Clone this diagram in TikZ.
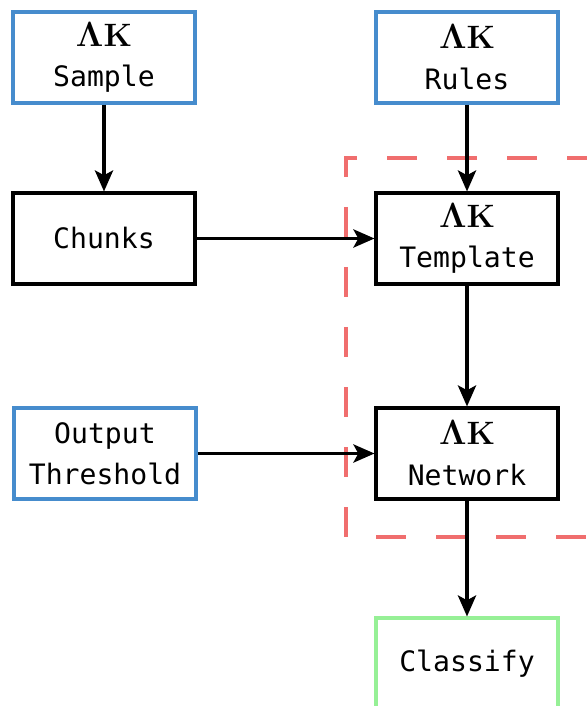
\documentclass[tikz,border=0pt]{standalone}
\usepackage{amsmath, amssymb}
\usepackage{fontspec}
\setmonofont{DejaVu Sans Mono}
\usepackage{tikz}
\usetikzlibrary{arrows.meta}
\usetikzlibrary{positioning}

\definecolor{inblue}{RGB}{70,140,205}
\definecolor{outgreen}{RGB}{150,240,150}
\definecolor{groupred}{RGB}{240,110,110}

\newcommand{\lk}{{\normalfont\fontsize{23}{27}\selectfont\bfseries$\boldsymbol{\Lambda}$K}}

\begin{document}
\begin{tikzpicture}[>={Stealth[length=15pt,width=13pt,inset=3.5pt]},
    every node/.style={font=\ttfamily\fontsize{20}{29}\selectfont},
    box/.style={draw, line width=2.2pt, minimum width=4.55cm, minimum height=2.275cm, align=center, inner sep=0pt},
    inbox/.style={box, draw=inblue},
    outbox/.style={box, draw=outgreen}]
        \useasboundingbox (0,0) rectangle (14.675,-17.65);

        % group of the two core stages
        \draw[groupred, line width=2.4pt, dash pattern=on 0.75cm off 0.75cm, dash phase=0.25cm]
            (14.675,-3.95) -- (8.65,-3.95) -- (8.65,-13.425) -- (14.675,-13.425);

        \node[inbox] at (2.6,-1.4375)    (sample) {\lk\\Sample};
        \node[inbox] at (11.675,-1.4375) (rules)  {\lk\\Rules};
        \node[box]   at (2.6,-5.9625)    (chunks) {Chunks};
        \node[box]   at (11.675,-5.9625) (tmpl)   {\lk\\Template};
        \node[inbox] at (2.625,-11.3375) (thresh) {Output\\Threshold};
        \node[box]   at (11.675,-11.3375) (net)   {\lk\\Network};
        \node[outbox] at (11.675,-16.5875) (classify) {Classify};

        \foreach \a / \b in {sample/chunks, rules/tmpl, chunks/tmpl, tmpl/net, thresh/net, net/classify}
        \draw[line width=2.2pt, ->] (\a) -- (\b);
      \end{tikzpicture}
\end{document}
